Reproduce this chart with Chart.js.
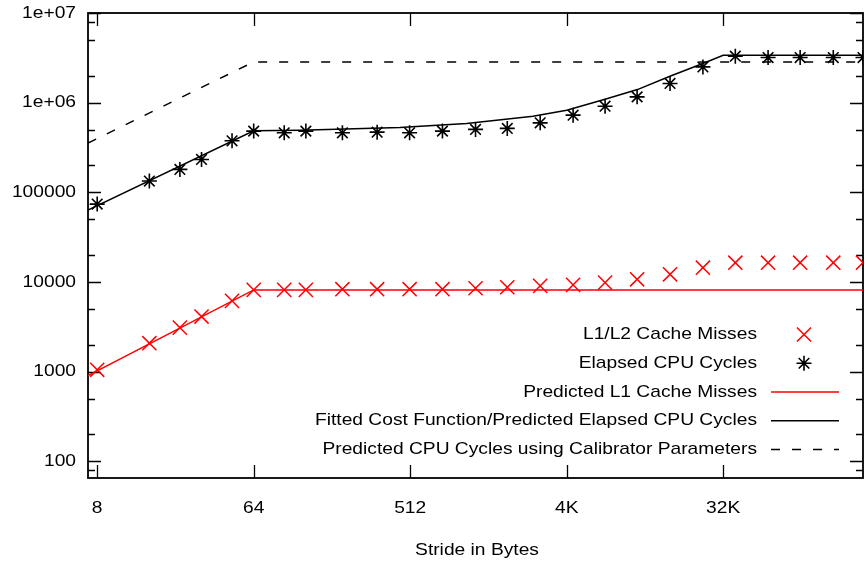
<!DOCTYPE html>
<html>
<head>
<meta charset="utf-8">
<script src="https://cdn.jsdelivr.net/npm/chart.js@4"></script>
<style>
  body { margin: 0; background: #fff; }
  canvas { display: block; }
</style>
</head>
<body>
<canvas id="strideChart" width="868" height="564"></canvas>
<script>
// measured points (stride in bytes)
const strides = [8, 16, 24, 32, 48, 64, 96, 128, 208, 330, 508, 786, 1220, 1860, 2880, 4460, 6820, 10440, 16170, 25030, 38500, 59500, 91100, 141500, 210000];
const cacheMisses = [1050, 2080, 3100, 4120, 6170, 8170, 8170, 8170, 8320, 8320, 8320, 8320, 8530, 8750, 9060, 9290, 9850, 10730, 12200, 14460, 16440, 16440, 16440, 16440, 16440];
const cpuCycles = [74000, 133700, 180300, 232900, 375600, 481800, 461500, 481800, 461500, 469000, 461500, 481800, 503600, 516400, 596000, 726000, 914000, 1161000, 1637000, 2505000, 3296000, 3185000, 3185000, 3185000, 3185000];

// model curves
const l1Strides = [7.08, 64, 210000];
const l1Predicted = [908, 8170, 8170];
const fitStrides = [7.08, 64, 118, 446, 1083, 2617, 4096, 6820, 10480, 16150, 25000, 32768, 210000];
const fitCycles = [63500, 485000, 494000, 530000, 586000, 707000, 825000, 1094000, 1400000, 1970000, 2730000, 3380000, 3380000];
const calStrides = [7.08, 64, 210000];
const calCycles = [354000, 2850000, 2850000];

// axes
const xTicks = [8, 64, 512, 4096, 32768];
const xTickLabels = ["8", "64", "512", "4K", "32K"];
const yTicks = [100, 1000, 10000, 100000, 1000000, 10000000];
const yTickLabels = ["100", "1000", "10000", "100000", "1e+06", "1e+07"];
const yMinorTicks = [80, 200, 500, 2000, 5000, 20000, 50000, 200000, 500000, 2000000, 5000000, 8000000];
const xTitle = "Stride in Bytes";

const RED = "#ff0000";
const FONT = '17px "Liberation Sans", Arial, sans-serif';
const STRETCH = 1.13;

function pts(xs, ys) {
    return xs.map((x, i) => ({ x: x, y: ys[i] }));
}

function drawText(ctx, s, x, y, align) {
    ctx.font = FONT;
    const w = ctx.measureText(s).width * STRETCH;
    let left = x;
    if (align === "right") left = x - w;
    else if (align === "center") left = x - w / 2;
    ctx.save();
    ctx.translate(left, y);
    ctx.scale(STRETCH, 1);
    ctx.textAlign = "left";
    ctx.textBaseline = "middle";
    ctx.fillStyle = "#000";
    ctx.fillText(s, 0, 0);
    ctx.restore();
}

// gnuplot-like frame with inward ticks on every side
const framePlugin = {
    id: "frame",
    beforeDatasetsDraw(chart) {
        const ctx = chart.ctx;
        const a = chart.chartArea;
        const xs = chart.scales.x;
        const ys = chart.scales.y;
        ctx.save();
        ctx.strokeStyle = "#000";
        ctx.lineWidth = 1.3;
        ctx.beginPath();
        yTicks.concat(yMinorTicks).forEach(v => {
            const y = Math.round(ys.getPixelForValue(v)) + 0.5;
            if (y < a.top || y > a.bottom) return;
            const len = yTicks.includes(v) ? 13 : 7;
            ctx.moveTo(a.left, y); ctx.lineTo(a.left + len, y);
            ctx.moveTo(a.right, y); ctx.lineTo(a.right - len, y);
        });
        xTicks.forEach(v => {
            const x = Math.round(xs.getPixelForValue(v)) + 0.5;
            ctx.moveTo(x, a.bottom); ctx.lineTo(x, a.bottom - 13);
            ctx.moveTo(x, a.top); ctx.lineTo(x, a.top + 13);
        });
        ctx.stroke();
        ctx.lineWidth = 1.8;
        ctx.strokeRect(a.left, a.top, a.right - a.left, a.bottom - a.top);
        ctx.restore();
    },
    afterDraw(chart) {
        const ctx = chart.ctx;
        const xs = chart.scales.x;
        const ys = chart.scales.y;
        yTicks.forEach((v, i) => drawText(ctx, yTickLabels[i], 76, ys.getPixelForValue(v), "right"));
        xTicks.forEach((v, i) => drawText(ctx, xTickLabels[i], xs.getPixelForValue(v), 508, "center"));
        drawText(ctx, xTitle, 477, 550, "center");

        // legend: right-aligned text, sample on the right
        chart.data.datasets.forEach((ds, i) => {
            const y = 334.5 + i * 28.75;
            drawText(ctx, ds.label, 757, y, "right");
            ctx.save();
            ctx.strokeStyle = ds.borderColor;
            ctx.lineWidth = ds.borderWidth;
            if (ds.showLine === false) {
                Chart.helpers.drawPoint(ctx, {
                    pointStyle: ds.pointStyle,
                    radius: ds.pointRadius,
                    rotation: 0,
                    borderWidth: ds.borderWidth
                }, 804, y);
            } else {
                ctx.setLineDash(ds.borderDash || []);
                ctx.beginPath();
                ctx.moveTo(771, y);
                ctx.lineTo(839, y);
                ctx.stroke();
            }
            ctx.restore();
        });
    }
};

new Chart(document.getElementById("strideChart"), {
    type: "line",
    data: {
        datasets: [
            {
                label: "L1/L2 Cache Misses",
                data: pts(strides, cacheMisses),
                showLine: false,
                pointStyle: "crossRot",
                pointRadius: 10,
                borderColor: RED,
                borderWidth: 1.5
            },
            {
                label: "Elapsed CPU Cycles",
                data: pts(strides, cpuCycles),
                showLine: false,
                pointStyle: "star",
                pointRadius: 7.5,
                borderColor: "#000",
                borderWidth: 1.6
            },
            {
                label: "Predicted L1 Cache Misses",
                data: pts(l1Strides, l1Predicted),
                borderColor: RED,
                borderWidth: 1.5,
                pointRadius: 0
            },
            {
                label: "Fitted Cost Function/Predicted Elapsed CPU Cycles",
                data: pts(fitStrides, fitCycles),
                borderColor: "#000",
                borderWidth: 1.5,
                pointRadius: 0
            },
            {
                label: "Predicted CPU Cycles using Calibrator Parameters",
                data: pts(calStrides, calCycles),
                borderColor: "#000",
                borderWidth: 1.5,
                borderDash: [9, 12],
                pointRadius: 0
            }
        ]
    },
    plugins: [framePlugin],
    options: {
        responsive: false,
        animation: false,
        layout: { autoPadding: false, padding: { left: 88, right: 5, top: 13, bottom: 86 } },
        plugins: {
            legend: { display: false },
            tooltip: { enabled: false }
        },
        scales: {
            x: { type: "logarithmic", min: 7.08, max: 210000, display: false },
            y: { type: "logarithmic", min: 65.3, max: 10000000, display: false }
        }
    }
});
</script>
</body>
</html>
